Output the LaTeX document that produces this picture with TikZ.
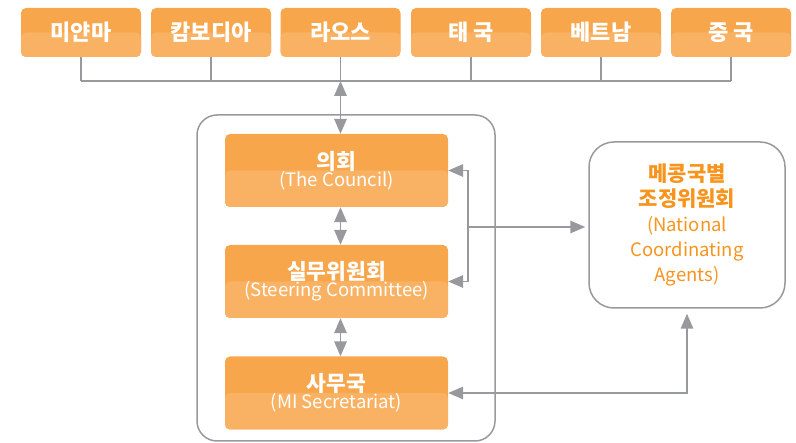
\documentclass[tikz,border=0pt]{standalone}
\usepackage{fontspec}
\setmainfont{Noto Sans CJK KR}
\usetikzlibrary{arrows.meta}
\definecolor{otop}{RGB}{247,166,75}
\definecolor{obot}{RGB}{249,178,99}
\definecolor{lgray}{RGB}{152,153,157}
\definecolor{otext}{RGB}{247,148,30}
\tikzset{
  obox/.style={rounded corners=5pt, fill=otop, text=white, align=center, inner sep=0pt,
    path picture={\fill[obot] (path picture bounding box.west) rectangle (path picture bounding box.south east);}},
  topbox/.style={obox, minimum width=120pt, minimum height=49pt, font=\fontsize{22}{24}\selectfont\bfseries},
  inbox/.style={obox, minimum width=223pt, minimum height=73pt},
  conn/.style={draw=lgray, line width=1.6pt},
  tipr/.style={-{Triangle[length=15pt,width=12.5pt]}},
  tipb/.style={{Triangle[length=15pt,width=12.5pt]}-{Triangle[length=15pt,width=12.5pt]}},
  frame/.style={draw=lgray, line width=1.5pt, rounded corners=#1, inner sep=0pt},
}
\newcommand{\kotxt}[1]{{\fontsize{21.5}{23}\selectfont\bfseries #1}}
\newcommand{\entxt}[1]{{\fontsize{18.5}{23}\selectfont #1}}
\begin{document}
\begin{tikzpicture}[x=1pt,y=-1pt]
\useasboundingbox (0,0) rectangle (796,443);
% top boxes
\node[topbox] (t1) at (81,32.5) {미얀마};
\node[topbox] (t2) at (211,32.5) {캄보디아};
\node[topbox] (t3) at (340.5,32.5) {라오스};
\node[topbox] (t4) at (471,32.5) {태 국};
\node[topbox] (t5) at (601,32.5) {베트남};
\node[topbox] (t6) at (731,32.5) {중 국};
\coordinate (busy) at (0,81);
\foreach \i in {1,...,6}{\draw[conn] (t\i.south) -- (t\i.south |- busy);}
\draw[conn] (t1.south |- busy) -- (t6.south |- busy);
% container
\node[frame=20pt, minimum width=298pt, minimum height=326pt] (box) at (346,278) {};
% inner boxes
\node[inbox] (council) at (336.5,170.5) {\kotxt{의회}\\[-1pt]\entxt{(The Council)}};
\node[inbox] (steer) at (336.5,281.5) {\kotxt{실무위원회}\\[-1pt]\entxt{(Steering Committee)}};
\node[inbox] (sec) at (336.5,393) {\kotxt{사무국}\\[-1pt]\entxt{(MI Secretariat)}};
% NCA
\node[frame=25pt, minimum width=196pt, minimum height=166pt, text=otext, align=center,
  font=\fontsize{18.5}{25}\selectfont] (nca) at (687,225)
  {{\fontsize{21}{25}\selectfont\bfseries 메콩국별}\\{\fontsize{21}{25}\selectfont\bfseries 조정위원회}\\(National\\Coordinating\\Agents)};
% connectors
\draw[conn, tipb] (t3.south |- busy) -- (t3.south |- council.north);
\draw[conn, tipb] (t3.south |- council.south) -- (t3.south |- steer.north);
\draw[conn, tipb] (t3.south |- steer.south) -- (t3.south |- sec.north);
\coordinate (jn) at (468,227);
\draw[conn, tipr] (jn) |- (council.east);
\draw[conn, tipr] (jn) |- (steer.east);
\draw[conn, tipr, shorten >=3pt] (jn) -- (nca.west |- jn);
\draw[conn, tipb, shorten >=5pt] (sec.east) -| (nca.south);
\end{tikzpicture}
\end{document}
